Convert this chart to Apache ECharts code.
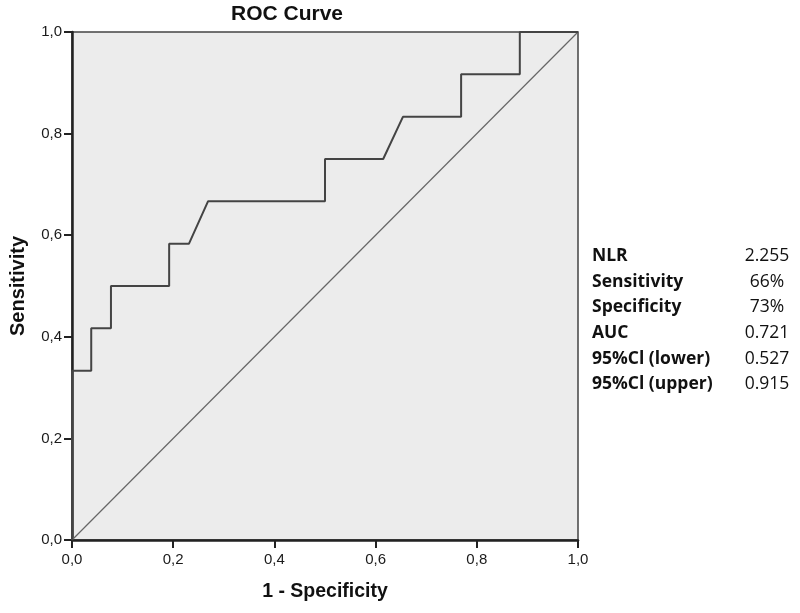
<!DOCTYPE html>
<html>
<head>
<meta charset="utf-8">
<script src="https://cdn.jsdelivr.net/npm/echarts@6/dist/echarts.min.js"></script>
<style>
html,body{margin:0;padding:0;background:#fff;}
#chart{width:800px;height:613px;}
</style>
</head>
<body>
<div id="chart"></div>
<script>
// ROC curve data (1 - specificity, sensitivity)
const fpr = [0, 0, 0.038, 0.038, 0.077, 0.077, 0.192, 0.192, 0.231, 0.269, 0.5, 0.5, 0.615, 0.654, 0.769, 0.769, 0.885, 0.885, 1];
const tpr = [0, 0.333, 0.333, 0.417, 0.417, 0.5, 0.5, 0.583, 0.583, 0.667, 0.667, 0.75, 0.75, 0.833, 0.833, 0.917, 0.917, 1, 1];
const refX = [0, 1];
const refY = [0, 1];
const statLabels = ['NLR', 'Sensitivity', 'Specificity', 'AUC', '95%Cl (lower)', '95%Cl (upper)'];
const statValues = ['2.255', '66%', '73%', '0.721', '0.527', '0.915'];

const chart = echarts.init(document.getElementById('chart'));
const fmt = v => v.toFixed(1).replace('.', ',');
const tableFont = '"Open Sans", Lato, sans-serif';
const axisFont = '"Liberation Sans", Arial, sans-serif';

const graphics = [];
statLabels.forEach((lab, i) => {
  const y = 256 + i * 25.7;
  graphics.push({
    type: 'text', x: 592, y: y,
    style: { text: lab, font: 'bold 17.5px ' + tableFont, fill: '#111', textAlign: 'left', textVerticalAlign: 'middle' }
  });
  graphics.push({
    type: 'text', x: 767, y: y,
    style: { text: statValues[i], font: '17.5px ' + tableFont, fill: '#111', textAlign: 'center', textVerticalAlign: 'middle' }
  });
});
graphics.push({
  type: 'text', x: 287, y: 14,
  style: { text: 'ROC Curve', font: 'bold 21px ' + axisFont, fill: '#111', textAlign: 'center', textVerticalAlign: 'middle' }
});

chart.setOption({
  animation: false,
  backgroundColor: '#fff',
  grid: { left: 70, right: 222, top: 32, bottom: 73, show: true, backgroundColor: '#ececec', borderColor: '#444', borderWidth: 1.5 },
  xAxis: {
    type: 'value', min: 0, max: 1, interval: 0.2,
    name: '1 - Specificity', nameLocation: 'middle', nameGap: 42,
    nameTextStyle: { fontFamily: axisFont, fontWeight: 'bold', fontSize: 19.5, color: '#111' },
    axisLine: { show: true, lineStyle: { color: '#222', width: 2.5 } },
    axisTick: { show: true, length: 8, lineStyle: { color: '#222', width: 2 } },
    axisLabel: { formatter: fmt, margin: 12, fontFamily: axisFont, fontSize: 15, color: '#1a1a1a' },
    splitLine: { show: false }
  },
  yAxis: {
    type: 'value', min: 0, max: 1, interval: 0.2,
    name: 'Sensitivity', nameLocation: 'middle', nameGap: 44,
    nameTextStyle: { fontFamily: axisFont, fontWeight: 'bold', fontSize: 20, color: '#111' },
    axisLine: { show: true, lineStyle: { color: '#222', width: 2.5 } },
    axisTick: { show: true, length: 8, lineStyle: { color: '#222', width: 2 } },
    axisLabel: { formatter: fmt, margin: 10, fontFamily: axisFont, fontSize: 15, color: '#1a1a1a' },
    splitLine: { show: false }
  },
  series: [
    {
      type: 'line', data: refX.map((x, i) => [x, refY[i]]),
      symbol: 'none', lineStyle: { color: '#666', width: 1.2 }, silent: true
    },
    {
      type: 'line', data: fpr.map((x, i) => [x, tpr[i]]),
      symbol: 'none', lineStyle: { color: '#444', width: 2 }, silent: true
    }
  ],
  graphic: graphics
});
</script>
</body>
</html>
